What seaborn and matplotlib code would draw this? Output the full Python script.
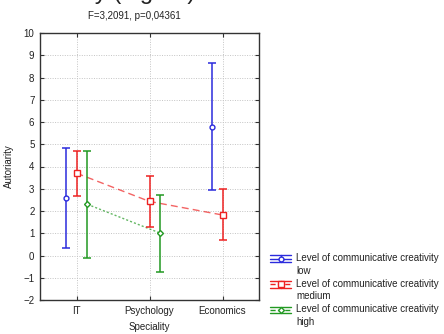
import numpy as np
import matplotlib
matplotlib.use("Agg")
import matplotlib.pyplot as plt
import seaborn as sns
from matplotlib.lines import Line2D
from matplotlib.legend_handler import HandlerBase

categories = ["IT", "Psychology", "Economics"]
series_names = ["Level of communicative creativity\nlow",
                "Level of communicative creativity\nmedium",
                "Level of communicative creativity\nhigh"]
low_mean = [2.6, np.nan, 5.77]
low_lo = [0.35, np.nan, 2.95]
low_hi = [4.85, np.nan, 8.65]
med_mean = [3.7, 2.43, 1.82]
med_lo = [2.68, 1.3, 0.7]
med_hi = [4.7, 3.57, 2.98]
high_mean = [2.3, 1.0, np.nan]
high_lo = [-0.12, -0.72, np.nan]
high_hi = [4.7, 2.72, np.nan]
yticks = list(range(-2, 11))

sns.set_style("white")
plt.rcParams["font.family"] = ["Liberation Sans", "DejaVu Sans"]

fig = plt.figure(figsize=(4.44, 3.34), dpi=100)
ax = fig.add_axes([40/444, 1-300/334, 219/444, 267/334])

colors = ["#2b2bdd", "#ee2222", "#229922"]
styles = ["-", (0, (5, 3)), (0, (1.5, 1.5))]
markers = ["o", "s", "D"]
msizes = [3.5, 4.5, 3]
offsets = [-0.15, 0.0, 0.15]
data = [(low_mean, low_lo, low_hi), (med_mean, med_lo, med_hi), (high_mean, high_lo, high_hi)]
x = np.arange(len(categories))

handles = []
for i, (m, lo, hi) in enumerate(data):
    m = np.array(m, float); lo = np.array(lo, float); hi = np.array(hi, float)
    xs = x + offsets[i]
    ok = ~np.isnan(m)
    ax.errorbar(xs[ok], m[ok], yerr=[m[ok]-lo[ok], hi[ok]-m[ok]], fmt="none",
                ecolor=colors[i], elinewidth=1.1, capsize=2.8, capthick=1.1, zorder=3)
    if i > 0:
        ax.plot(xs, m, color=colors[i], linestyle=styles[i], linewidth=1.0, alpha=0.7, zorder=2)
    ax.plot(xs[ok], m[ok], linestyle="none", marker=markers[i], markersize=msizes[i],
            markerfacecolor="white", markeredgecolor=colors[i], markeredgewidth=1.0, zorder=4)
    handles.append(Line2D([], [], color=colors[i], linestyle=styles[i], marker=markers[i],
                          markersize=msizes[i], markerfacecolor="white", markeredgecolor=colors[i]))

ax.set_xlim(-0.5, 2.5)
ax.set_ylim(-2, 10)
ax.set_yticks(yticks)
ax.set_xticks(x)
ax.set_xticklabels(categories)
ax.tick_params(direction="in", length=3, labelsize=7, colors="#333333", top=True, right=True,
               left=True, bottom=True, labelcolor="#222222", pad=4)
ax.grid(True, color="#c4c4c4", linestyle=(0, (1, 1.5)), linewidth=0.7)
ax.set_axisbelow(True)
for s in ax.spines.values():
    s.set_color("#333333"); s.set_linewidth(1.0)
ax.set_xlabel("Speciality", fontsize=7, color="#222222", labelpad=5)
ax.set_ylabel("Autoriarity", fontsize=7, color="#222222", labelpad=7)

fig.text(134/444, 1-16/334, "F=3,2091, p=0,04361", fontsize=7, ha="center", va="center", color="#222222")
fig.text(0/444, 1+0.5/334, "Autoriarity (higher)", fontsize=17, ha="left", va="baseline", color="#222222")

LEG_FS = 7


class Handler(HandlerBase):
    def create_artists(self, legend, orig, xd, yd, width, height, fontsize, trans):
        c = orig.get_color()
        shift = fontsize * 1.3 / 2
        y0, y1 = -yd + shift, -yd + height + shift
        ym = (y0 + y1) / 2
        arts = [
            Line2D([-xd, -xd+width], [y1, y1], color=c, lw=1.0),
            Line2D([-xd, -xd+width], [y0, y0], color=c, lw=1.0),
            Line2D([-xd, -xd+width], [ym, ym], color=c, lw=1.0, linestyle=orig.get_linestyle()),
            Line2D([-xd+width/2]*2, [y0, y1], color=c, lw=1.0),
            Line2D([-xd+width/2], [ym], marker=orig.get_marker(), markersize=orig.get_markersize(),
                   markerfacecolor="white", markeredgecolor=c, linestyle="none"),
        ]
        for a in arts:
            a.set_transform(trans)
        return arts

leg = fig.legend(handles, series_names, loc="upper left", bbox_to_anchor=(266/444, 1-249/334),
                 fontsize=LEG_FS, frameon=False, handler_map={Line2D: Handler()}, handlelength=2.2,
                 handleheight=0.7, handletextpad=0.5, labelspacing=0.3, borderaxespad=0)
for t in leg.get_texts():
    t.set_color("#222222")
    t.set_linespacing(1.35)

fig.savefig("out.png", dpi=100)
